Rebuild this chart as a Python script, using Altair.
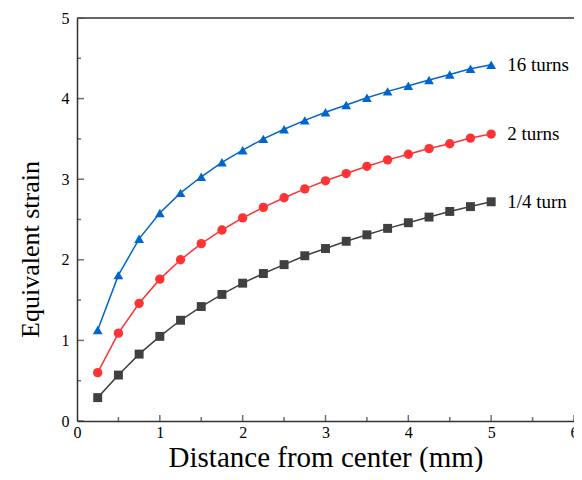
import altair as alt
import pandas as pd

# ---- data ----
distance = [0.25, 0.5, 0.75, 1.0, 1.25, 1.5, 1.75, 2.0, 2.25, 2.5,
            2.75, 3.0, 3.25, 3.5, 3.75, 4.0, 4.25, 4.5, 4.75, 5.0]
strain_quarter = [0.29, 0.57, 0.83, 1.05, 1.25, 1.42, 1.57, 1.71, 1.83, 1.94,
                  2.05, 2.14, 2.23, 2.31, 2.39, 2.46, 2.53, 2.60, 2.66, 2.72]
strain_two = [0.60, 1.09, 1.46, 1.76, 2.00, 2.20, 2.37, 2.52, 2.65, 2.77,
              2.88, 2.98, 3.07, 3.16, 3.24, 3.31, 3.38, 3.44, 3.51, 3.56]
strain_sixteen = [1.13, 1.81, 2.26, 2.58, 2.83, 3.03, 3.21, 3.36, 3.50, 3.62,
                  3.73, 3.83, 3.92, 4.01, 4.09, 4.16, 4.23, 4.30, 4.37, 4.42]

series_names = ["1/4 turn", "2 turns", "16 turns"]
series_colors = ["#404040", "#FF3333", "#0066CC"]
series_shapes = ["square", "circle", "triangle-up"]
series_sizes = [80, 95, 160]

x_major = [0, 1, 2, 3, 4, 5, 6]
x_minor = [0.5, 1.5, 2.5, 3.5, 4.5, 5.5]
y_major = [0, 1, 2, 3, 4, 5]
y_minor = [0.5, 1.5, 2.5, 3.5, 4.5]

FONT = "Liberation Serif"
AXIS_COLOR = "#333333"

rows = []
for name, vals in zip(series_names, [strain_quarter, strain_two, strain_sixteen]):
    for d, s in zip(distance, vals):
        rows.append({"Distance": d, "Strain": s, "Series": name})
df = pd.DataFrame(rows)
last = df.groupby("Series", as_index=False).last()

X = alt.X("Distance:Q",
          scale=alt.Scale(domain=[0, 6], nice=False, zero=False),
          axis=alt.Axis(values=x_major, title="Distance from center (mm)",
                        ticks=False, grid=False, labelFlush=False,
                        labelOverlap=False, labelBound=False,
                        labelFont=FONT, labelFontSize=16, labelColor="black",
                        labelPadding=3, titleFont=FONT, titleFontSize=29,
                        titleFontWeight="normal", titleColor="black",
                        titlePadding=3, domainColor=AXIS_COLOR, domainWidth=1.5))
Y = alt.Y("Strain:Q",
          scale=alt.Scale(domain=[0, 5], nice=False, zero=False),
          axis=alt.Axis(values=y_major, title="Equivalent strain",
                        ticks=False, grid=False, labelOverlap=False,
                        labelFont=FONT, labelFontSize=16, labelColor="black",
                        labelPadding=8, titleFont=FONT, titleFontSize=26,
                        titleFontWeight="normal", titleColor="black",
                        titlePadding=18, titleY=231,
                        domainColor=AXIS_COLOR, domainWidth=1.5))

color = alt.Color("Series:N", scale=alt.Scale(domain=series_names, range=series_colors), legend=None)
shape = alt.Shape("Series:N", scale=alt.Scale(domain=series_names, range=series_shapes), legend=None)
size = alt.Size("Series:N", scale=alt.Scale(domain=series_names, range=series_sizes), legend=None)

lines = alt.Chart(df).mark_line(strokeWidth=1.5).encode(x=X, y=Y, color=color)
points = alt.Chart(df).mark_point(filled=True, opacity=1).encode(x=X, y=Y, color=color, shape=shape, size=size)
labels = alt.Chart(last).mark_text(align="left", baseline="middle", dx=16, font=FONT,
                                   fontSize=19, color="black").encode(x=X, y=Y, text="Series:N")

xt_major = pd.DataFrame({"Distance": x_major, "Strain": [0] * len(x_major)})
xt_minor = pd.DataFrame({"Distance": x_minor, "Strain": [0] * len(x_minor)})
yt_major = pd.DataFrame({"Distance": [0] * len(y_major), "Strain": y_major})
yt_minor = pd.DataFrame({"Distance": [0] * len(y_minor), "Strain": y_minor})

tick_x1 = alt.Chart(xt_major).mark_tick(orient="vertical", size=12, thickness=1.5, clip=True,
                                        color=AXIS_COLOR).encode(x=X, y=Y)
tick_x2 = alt.Chart(xt_minor).mark_tick(orient="vertical", size=8, thickness=1.5, clip=True,
                                        color=AXIS_COLOR).encode(x=X, y=Y)
tick_y1 = alt.Chart(yt_major).mark_tick(orient="horizontal", size=14, thickness=1.5, clip=True,
                                        color=AXIS_COLOR).encode(x=X, y=Y)
tick_y2 = alt.Chart(yt_minor).mark_tick(orient="horizontal", size=8, thickness=1.5, clip=True,
                                        color=AXIS_COLOR).encode(x=X, y=Y)

frame_df = pd.DataFrame({"Distance": [0], "Distance2": [6], "Strain": [5]})
top_rule = alt.Chart(frame_df).mark_rule(color=AXIS_COLOR, strokeWidth=1.5).encode(
    x=X, x2="Distance2:Q", y=Y)

chart = alt.layer(top_rule, tick_x1, tick_x2, tick_y1, tick_y2, lines, points, labels).properties(
    width=497, height=403,
    autosize=alt.AutoSizeParams(type="none"),
    padding={"left": 69, "top": 10, "right": 0, "bottom": 51},
    background="white",
).configure_view(stroke=None)

chart.save("out.html", embed_options={"renderer": "svg", "actions": False})
